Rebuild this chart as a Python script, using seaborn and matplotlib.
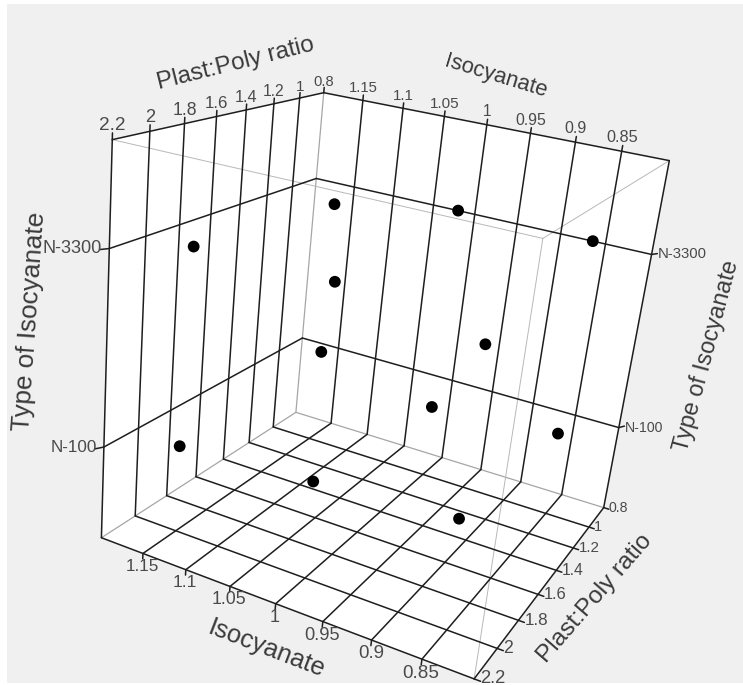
import numpy as np
import pandas as pd
import matplotlib
matplotlib.use('Agg')
import matplotlib.pyplot as plt
import seaborn as sns
from matplotlib.patches import Rectangle
from mpl_toolkits.mplot3d.art3d import Poly3DCollection

# values
type_levels = ['N-100', 'N-3300']
iso_n100 = [1.16, 0.9875, 0.85, 1.145, 1.005, 0.863]
plast_n100 = [0.89, 1.113, 1.02, 2.03, 1.97, 1.90]
iso_n3300 = [1.15, 1.13, 1.02, 0.864, 1.003, 0.8375]
plast_n3300 = [1.98, 1.11, 0.80, 0.80, 1.965, 2.155]

iso_ticks = [0.85, 0.9, 0.95, 1.0, 1.05, 1.1, 1.15]
plast_ticks = [0.8, 1.0, 1.2, 1.4, 1.6, 1.8, 2.0, 2.2]
iso_lim = (0.8, 1.2)
plast_lim = (0.8, 2.2)
type_lim = (-0.5, 1.5)

df = pd.DataFrame({
    'Isocyanate': iso_n100 + iso_n3300,
    'Plast:Poly ratio': plast_n100 + plast_n3300,
    'Type of Isocyanate': ['N-100'] * len(iso_n100) + ['N-3300'] * len(iso_n3300),
})
df['z'] = df['Type of Isocyanate'].map({t: i for i, t in enumerate(type_levels)})

sns.set_theme(style='white')
plt.rcParams['font.family'] = ['Liberation Sans', 'DejaVu Sans']

fig = plt.figure(figsize=(7.43, 6.85), dpi=100, facecolor='white')
fig.add_artist(Rectangle((7 / 743, 2 / 685), 736 / 743, 679 / 685, transform=fig.transFigure,
                         facecolor='#f0f0f0', edgecolor='none', zorder=-10))

ax = fig.add_axes([0.011, -0.0198, 1, 1], projection='3d', computed_zorder=False)
ax.set_facecolor('none')
ax.set_axis_off()
ax.set_xlim(*iso_lim)
ax.set_ylim(*plast_lim)
ax.set_zlim(*type_lim)
ax.set_box_aspect((1.05, 1.0, 1.043), zoom=0.967)
ax.set_proj_type('persp', focal_length=0.34)
ax.view_init(elev=21, azim=113.9, roll=-6.5)

x0, x1 = iso_lim
y0, y1 = plast_lim
z0, z1 = type_lim

# white back walls and floor
faces = [
    [(x0, y0, z0), (x1, y0, z0), (x1, y1, z0), (x0, y1, z0)],
    [(x1, y0, z0), (x1, y1, z0), (x1, y1, z1), (x1, y0, z1)],
    [(x0, y0, z0), (x1, y0, z0), (x1, y0, z1), (x0, y0, z1)],
]
ax.add_collection3d(Poly3DCollection(faces, facecolor='white', edgecolor='none', zorder=0))

black = dict(color='#1e1e1e', lw=1.1, zorder=2)
gray = dict(color='#a6a6a6', lw=0.9, zorder=1)
thin = dict(color='#b8b8b8', lw=0.7, zorder=1)


def seg(p, q, **kw):
    ax.plot([p[0], q[0]], [p[1], q[1]], [p[2], q[2]], **kw)


# grid lines that wrap from walls onto the floor
for p in plast_ticks[1:]:
    seg((x0, p, z0), (x1, p, z0), **black)
    seg((x1, p, z0), (x1, p, z1), **black)
for i in [x0] + iso_ticks:
    seg((i, y0, z0), (i, y1, z0), **black)
    seg((i, y0, z0), (i, y0, z1), **black)
for z in range(len(type_levels)):
    seg((x1, y0, z), (x1, y1, z), **black)
    seg((x0, y0, z), (x1, y0, z), **black)
seg((x1, y0, z1), (x1, y1, z1), **black)
seg((x0, y0, z1), (x1, y0, z1), **black)

# box edges in gray
seg((x1, y0, z0), (x1, y0, z1), **gray)
seg((x1, y0, z0), (x1, y1, z0), **gray)
seg((x0, y0, z0), (x1, y0, z0), **gray)
seg((x0, y0, z1), (x0, y1, z1), **thin)
seg((x0, y1, z1), (x1, y1, z1), **thin)
seg((x0, y1, z0), (x0, y1, z1), **thin)

# tick marks
for p in plast_ticks:
    seg((x1, p, z1), (x1, p, z1 + 0.03), **black)
    seg((x0, p, z0), (x0 - 0.006, p, z0), **black)
for i in iso_ticks:
    seg((i, y0, z1), (i, y0, z1 + 0.03), **black)
    seg((i, y1, z0), (i, y1, z0 - 0.03), **black)
for z in range(len(type_levels)):
    seg((x1, y1, z), (x1 + 0.004, y1 + 0.03, z), **black)
    seg((x0, y0, z), (x0 - 0.004, y0 - 0.03, z), **black)

ax.scatter(df['Isocyanate'], df['Plast:Poly ratio'], df['z'], s=72, c='black',
           edgecolors='none', depthshade=False, zorder=5)

M = ax.get_proj()
w_mid = (M @ np.array([np.mean(iso_lim), np.mean(plast_lim), np.mean(type_lim), 1.0]))[3]


def proj(x, y, z):
    v = M @ np.array([x, y, z, 1.0])
    return v[0] / v[3], v[1] / v[3], w_mid / v[3]


def label(s, pos, dx, dy, size, **kw):
    # text shrinks with depth, like the rest of the box
    px, py, k = proj(*pos)
    ax.annotate(s, (px, py), xytext=(dx * k, dy * k), textcoords='offset points',
                annotation_clip=False, fontsize=size * k, **kw)


tick_col = '#4a4a4a'
title_col = '#3a3a3a'

for p in plast_ticks:
    label(f'{p:g}', (x1, p, z1), 0, 9, 12, ha='center', va='center', color=tick_col)
    label(f'{p:g}', (x0, p, z0), 4, 0, 11.5, ha='left', va='center', color=tick_col)
for i in iso_ticks:
    label(f'{i:g}', (i, y0, z1), 0, 10, 12, ha='center', va='center', color=tick_col)
    label(f'{i:g}', (i, y1, z0), -0.5, -9, 12, ha='center', va='center', color=tick_col)
for z, t in enumerate(type_levels):
    label(t, (x1, y1, z), -5, 0, 11.8, ha='right', va='center', color=tick_col)
    label(t, (x0, y0, z), 5, 0, 11.2, ha='left', va='center', color=tick_col)

zm = (z0 + z1) / 2
label('Plast:Poly ratio', (x1, 1.5, z1), 3, 36, 17.5, ha='center', va='center',
      rotation=14, color=title_col)
label('Isocyanate', (1.0, y0, z1), 7, 37.5, 17, ha='center', va='center',
      rotation=-17, color=title_col)
label('Type of Isocyanate', (x1, y1, zm), -51.5, 19.5, 17.5, ha='center', va='center',
      rotation=86, color=title_col)
label('Type of Isocyanate', (x0, y0, zm), 55, -10, 18, ha='center', va='center',
      rotation=75, color=title_col)
label('Isocyanate', (1.0, y1, z0), -6, -30, 17, ha='center', va='center',
      rotation=-21, color=title_col)
label('Plast:Poly ratio', (x0, 1.5, z0), 34, -12, 17.5, ha='center', va='center',
      rotation=49, color=title_col)

fig.savefig('out.png', dpi=100, facecolor=fig.get_facecolor())
